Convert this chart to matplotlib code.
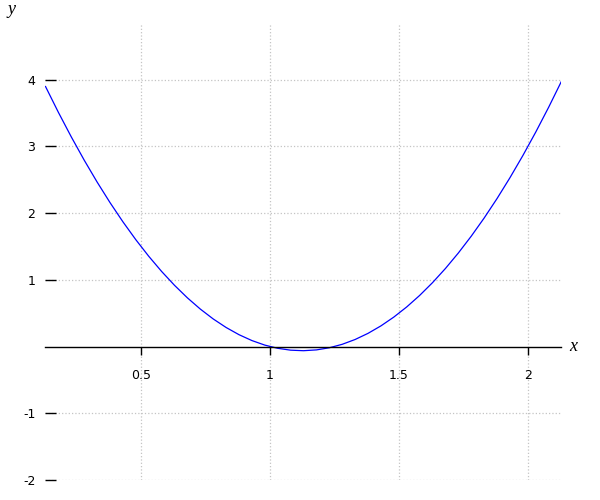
import matplotlib
matplotlib.use("Agg")
import matplotlib.pyplot as plt
import matplotlib.transforms as mtransforms

# values
x_vals = [0.13, 0.18, 0.23, 0.28, 0.33, 0.38, 0.43, 0.48, 0.53, 0.58,
          0.63, 0.68, 0.73, 0.78, 0.83, 0.88, 0.93, 0.98, 1.03, 1.08,
          1.13, 1.18, 1.23, 1.28, 1.33, 1.38, 1.43, 1.48, 1.53, 1.58,
          1.63, 1.68, 1.73, 1.78, 1.83, 1.88, 1.93, 1.98, 2.03, 2.08, 2.13]
y_vals = [3.898, 3.510, 3.142, 2.794, 2.466, 2.158, 1.870, 1.602, 1.354, 1.126,
          0.918, 0.730, 0.562, 0.414, 0.286, 0.178, 0.090, 0.022, -0.026, -0.054,
          -0.062, -0.050, -0.018, 0.034, 0.106, 0.198, 0.310, 0.442, 0.594, 0.766,
          0.958, 1.170, 1.402, 1.654, 1.926, 2.218, 2.530, 2.862, 3.214, 3.586, 3.978]

x_ticks = [0.5, 1, 1.5, 2]
x_tick_labels = ["0.5", "1", "1.5", "2"]
y_ticks = [-2, -1, 1, 2, 3, 4]
y_tick_labels = ["-2", "-1", "1", "2", "3", "4"]

fig = plt.figure(figsize=(6, 5), dpi=100)
ax = fig.add_axes([0.075, 0.04, 0.86, 0.914])

ax.plot(x_vals, y_vals, color="blue", linewidth=0.9)

ax.set_xlim(0.128, 2.128)
ax.set_ylim(-2.0, 4.85)

ax.spines["top"].set_visible(False)
ax.spines["right"].set_visible(False)
ax.spines["left"].set_visible(False)
ax.spines["bottom"].set_position(("data", 0))
ax.spines["bottom"].set_linewidth(1.0)

ax.set_xticks(x_ticks)
ax.set_xticklabels(x_tick_labels)
ax.set_yticks(y_ticks)
ax.set_yticklabels(y_tick_labels)
ax.tick_params(axis="x", direction="out", length=6, width=1, pad=10, labelsize=9)
ax.tick_params(axis="y", direction="in", length=8, width=1, pad=7, labelsize=9)

ax.grid(True, linestyle=":", color="#c4c4c4", linewidth=0.9)

# axis names, serif italic like the reference
lab_font = dict(family="Liberation Serif", style="italic", size=13)
trans = mtransforms.blended_transform_factory(ax.transAxes, ax.transData)
ax.text(1.015, 0, "x", transform=trans, ha="left", va="center",
        clip_on=False, **lab_font)
fig.text(0.012, 0.999, "y", ha="left", va="top", **lab_font)

fig.savefig("out.png", dpi=100)
